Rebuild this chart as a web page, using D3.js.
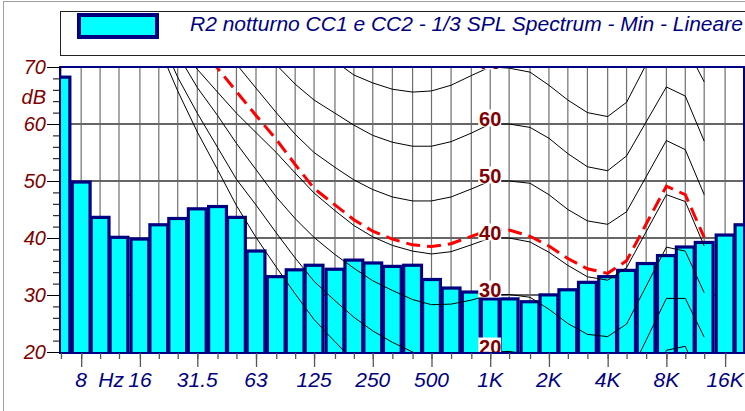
<!DOCTYPE html>
<html>
<head>
<meta charset="utf-8">
<script src="https://cdn.jsdelivr.net/npm/d3@7"></script>
<style>
body { margin: 0; background: #fff; }
svg { display: block; font-family: "Liberation Sans", Arial, sans-serif; }
</style>
</head>
<body>
<script>
// 1/3 octave bands and measured levels (dB)
var bandFreqs = [6.3, 8, 10, 12.5, 16, 20, 25, 31.5, 40, 50, 63, 80, 100, 125, 160, 200, 250, 315, 400, 500,
  630, 800, 1000, 1250, 1600, 2000, 2500, 3150, 4000, 5000, 6300, 8000, 10000, 12500, 16000, 20000];
var bandLevels = [68.5, 50.1, 43.9, 40.4, 40.1, 42.6, 43.7, 45.4, 45.8, 43.9, 38.0, 33.5, 34.7, 35.5, 34.8, 36.4,
  35.9, 35.3, 35.5, 33.0, 31.5, 30.8, 29.6, 29.6, 29.1, 30.3, 31.2, 32.5, 33.5, 34.6, 35.8, 37.2, 38.7, 39.5, 40.8, 42.6];

var octaveTicks = [8, 16, 31.5, 63, 125, 250, 500, 1000, 2000, 4000, 8000, 16000];
var octaveLabels = ["8", "16", "31.5", "63", "125", "250", "500", "1K", "2K", "4K", "8K", "16K"];
var yLabels = [20, 30, 40, 50, 60, 70];

// isophonic curves
var contourFreqs = [20, 25, 31.5, 40, 50, 63, 80, 100, 125, 160, 200, 250, 315, 400, 500, 630, 800,
  1000, 1250, 1600, 2000, 2500, 3150, 4000, 5000, 8000, 10000, 12500];
var phon10 = [73.5, 65.8, 58.6, 52.0, 45.7, 40.1, 34.9, 30.2, 25.7, 21.8, 18.4, 15.6, 13.5, 11.8, 10.6, 10.0, 9.8,
  10.0, 10.0, 9.6, 7.6, 5.0, 3.0, 2.7, 5.0, 20.3, 21.0, 13.5];
var phon20 = [75.6, 68.2, 61.9, 55.9, 50.3, 45.8, 40.9, 36.5, 32.4, 29.0, 26.1, 23.7, 21.7, 20.0, 18.8, 18.6, 19.2,
  20.0, 20.1, 19.6, 17.6, 15.0, 13.0, 12.7, 15.0, 29.4, 29.4, 22.6];
var phon30 = [78.5, 72.2, 66.4, 61.5, 56.6, 52.0, 47.2, 43.4, 40.1, 37.1, 34.7, 32.5, 30.8, 29.2, 28.3, 28.4, 29.1,
  30.0, 30.1, 29.6, 27.5, 25.0, 23.1, 22.7, 24.9, 38.4, 37.7, 30.4];
var phon40 = [null, 73.8, 69.6, 65.6, 61.9, 58.5, 55.0, 51.4, 47.9, 44.8, 42.2, 40.2, 38.7, 37.7, 37.2, 37.6, 38.8,
  40.0, 40.0, 39.3, 37.5, 35.2, 33.2, 32.6, 34.8, 47.6, 46.4, 38.6];
var phon50 = [null, null, null, 76.0, 70.5, 66.3, 62.0, 58.2, 55.0, 52.4, 50.2, 48.5, 47.2, 46.5, 46.5, 47.2, 48.6,
  50.0, 50.0, 49.6, 47.6, 45.0, 43.0, 42.4, 44.6, 57.1, 55.5, 47.6];
var phon60 = [null, null, null, null, null, 74.0, 70.4, 67.0, 64.2, 61.9, 59.8, 58.0, 56.8, 56.1, 56.1, 56.9, 58.4,
  60.0, 60.0, 59.4, 57.5, 54.8, 52.5, 51.8, 54.4, 66.5, 64.9, 57.0];
var phon70 = [null, null, null, null, null, null, null, null, 74.0, 71.0, 68.6, 67.2, 66.1, 65.6, 65.8, 66.8, 68.5,
  70.0, 69.8, 69.1, 66.8, 64.2, 62.0, 61.3, 63.8, 77.3, 73.8, 67.4];
var minContour = [null, null, 74.0, 69.8, 65.7, 61.5, 57.3, 52.9, 48.7, 45.8, 43.2, 41.2, 39.8, 38.8, 38.5, 39.0, 40.3,
  41.5, 41.4, 40.3, 38.6, 36.4, 34.6, 33.8, 36.0, 49.1, 47.6, 40.1];
var contourLabels = [20, 30, 40, 50, 60, 70];

var legendText = "R2 notturno CC1 e CC2 - 1/3 SPL Spectrum - Min - Lineare";

var width = 745, height = 411;
var plotLeft = 60, plotRight = 744, plotTop = 67, plotBottom = 353;
var navy = "#000080", darkRed = "#800000";

var svg = d3.select("body").append("svg")
    .attr("width", width)
    .attr("height", height);

var x = d3.scaleLog().domain([6.23, 20000]).range([plotLeft, plotRight]);
var y = d3.scaleLinear().domain([20, 70]).range([352, 67]);

svg.append("defs").append("clipPath").attr("id", "plotClip")
  .append("rect")
    .attr("x", plotLeft).attr("y", plotTop)
    .attr("width", plotRight - plotLeft).attr("height", plotBottom - plotTop);

// outer frame
svg.append("rect")
    .attr("x", 3.5).attr("y", 1.5)
    .attr("width", 800).attr("height", 500)
    .attr("fill", "none").attr("stroke", "#a0a0a0");

// legend
svg.append("rect")
    .attr("x", 60.5).attr("y", 11.5)
    .attr("width", 700).attr("height", 44)
    .attr("fill", "#fff").attr("stroke", "#222");
svg.append("rect")
    .attr("x", 79).attr("y", 15)
    .attr("width", 78).attr("height", 22)
    .attr("fill", "#00ffff").attr("stroke", navy).attr("stroke-width", 4);
svg.append("text")
    .attr("x", 190).attr("y", 31)
    .attr("fill", navy)
    .attr("font-size", 21).attr("font-style", "italic")
    .text(legendText);

// grid
var grid = svg.append("g");
grid.selectAll(".vgrid")
    .data(bandFreqs)
  .enter().append("line")
    .attr("class", "vgrid")
    .attr("x1", function(d) { return x(d); })
    .attr("x2", function(d) { return x(d); })
    .attr("y1", plotTop).attr("y2", plotBottom)
    .attr("stroke", "#6f6f6f").attr("stroke-width", 1.2);
grid.selectAll(".hgrid")
    .data([30, 40, 50, 60])
  .enter().append("line")
    .attr("class", "hgrid")
    .attr("x1", plotLeft).attr("x2", plotRight)
    .attr("y1", function(d) { return y(d); })
    .attr("y2", function(d) { return y(d); })
    .attr("stroke", "#666").attr("stroke-width", 1.8);

var plot = svg.append("g").attr("clip-path", "url(#plotClip)");

// bars
var barW = 17.8, barStroke = 3.2;
plot.selectAll(".bar")
    .data(bandFreqs)
  .enter().append("rect")
    .attr("class", "bar")
    .attr("x", function(d) { return x(d) - barW / 2; })
    .attr("y", function(d, i) { return y(bandLevels[i]) + barStroke / 2; })
    .attr("width", barW)
    .attr("height", function(d, i) { return plotBottom + 6 - y(bandLevels[i]); })
    .attr("fill", "#00ffff")
    .attr("stroke", navy)
    .attr("stroke-width", barStroke);

// contours
var line = d3.line()
    .defined(function(d) { return d != null; })
    .x(function(d, i) { return x(contourFreqs[i]); })
    .y(function(d) { return y(d); });

plot.selectAll(".contour")
    .data([phon10, phon20, phon30, phon40, phon50, phon60, phon70])
  .enter().append("path")
    .attr("class", "contour")
    .attr("d", line)
    .attr("fill", "none")
    .attr("stroke", "#000")
    .attr("stroke-width", 1);

plot.append("path")
    .attr("d", line(minContour))
    .attr("fill", "none")
    .attr("stroke", "#ff0000")
    .attr("stroke-width", 3)
    .attr("stroke-dasharray", "14,7");

// contour labels at 1 kHz
var labels = plot.selectAll(".clabel")
    .data(contourLabels)
  .enter().append("g")
    .attr("class", "clabel")
    .attr("transform", function(d) { return "translate(" + x(1000) + "," + y(d) + ")"; });
labels.append("rect")
    .attr("x", -12).attr("y", -14.5)
    .attr("width", 23).attr("height", 17)
    .attr("fill", "#fff");
labels.append("text")
    .attr("x", 0).attr("y", 1.5)
    .attr("text-anchor", "middle")
    .attr("fill", darkRed)
    .attr("font-size", 20).attr("font-weight", "bold")
    .text(function(d) { return d; });

// plot frame
svg.append("rect")
    .attr("x", plotLeft).attr("y", plotTop)
    .attr("width", plotRight - plotLeft).attr("height", plotBottom - plotTop)
    .attr("fill", "none").attr("stroke", navy).attr("stroke-width", 2);

// y axis
var yMinor = svg.append("g")
    .attr("transform", "translate(" + plotLeft + ",0)")
    .call(d3.axisLeft(y).tickValues(d3.range(20, 71, 2)).tickSize(7).tickFormat(""));
var yMajor = svg.append("g")
    .attr("transform", "translate(" + plotLeft + ",0)")
    .call(d3.axisLeft(y).tickValues(yLabels).tickSize(13).tickFormat(""));
svg.selectAll(".domain").remove();
yMinor.selectAll("line").attr("stroke", "#000");
yMajor.selectAll("line").attr("stroke", "#000");

svg.selectAll(".ylabel")
    .data(yLabels)
  .enter().append("text")
    .attr("class", "ylabel")
    .attr("x", 46).attr("y", function(d) { return y(d); })
    .attr("dy", "0.36em")
    .attr("text-anchor", "end")
    .attr("fill", darkRed)
    .attr("font-size", 20).attr("font-style", "italic")
    .text(function(d) { return d; });
svg.append("text")
    .attr("x", 46).attr("y", 104)
    .attr("text-anchor", "end")
    .attr("fill", darkRed)
    .attr("font-size", 20).attr("font-style", "italic")
    .text("dB");

// x axis
var xMinor = svg.append("g")
    .attr("transform", "translate(0," + plotBottom + ")")
    .call(d3.axisBottom(x).tickValues(bandFreqs.slice(0, 35)).tickSize(6).tickFormat(""));
var xMajor = svg.append("g")
    .attr("transform", "translate(0," + plotBottom + ")")
    .call(d3.axisBottom(x).tickValues(octaveTicks).tickSize(14).tickFormat(""));
xMinor.select(".domain").remove();
xMajor.select(".domain").remove();
xMinor.selectAll("line").attr("stroke", "#555").attr("stroke-width", 1.3);
xMajor.selectAll("line").attr("stroke", "#555").attr("stroke-width", 1.3);

svg.selectAll(".xlabel")
    .data(octaveTicks)
  .enter().append("text")
    .attr("class", "xlabel")
    .attr("x", function(d) { return x(d); })
    .attr("y", 386.5)
    .attr("text-anchor", "middle")
    .attr("fill", navy)
    .attr("font-size", 21).attr("font-style", "italic")
    .text(function(d, i) { return octaveLabels[i]; });
svg.append("text")
    .attr("x", x(11.4)).attr("y", 386.5)
    .attr("text-anchor", "middle")
    .attr("fill", navy)
    .attr("font-size", 21).attr("font-style", "italic")
    .text("Hz");
</script>
</body>
</html>
